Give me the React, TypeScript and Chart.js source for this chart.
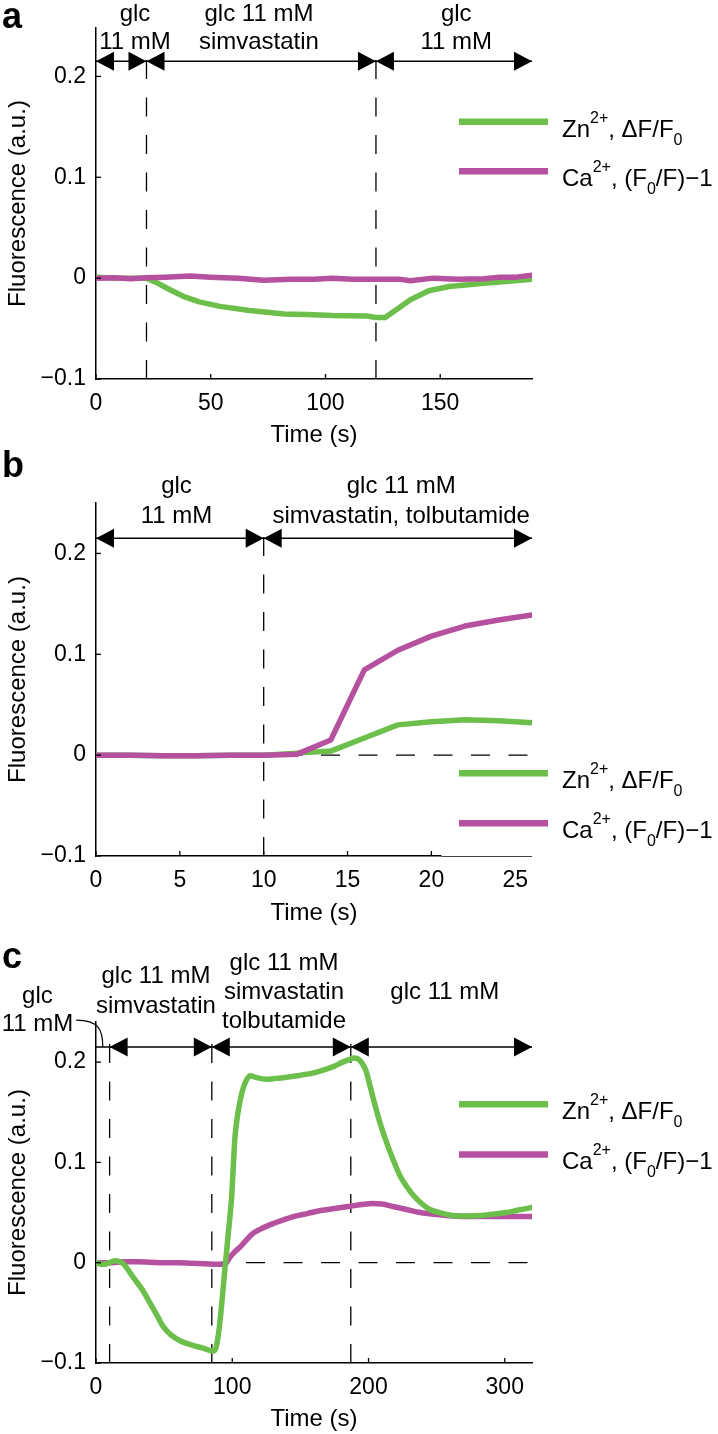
import React, { useEffect, useRef } from 'react';
import { Chart, registerables } from 'chart.js';

Chart.register(...registerables);

const GREEN = '#6cbf4a';
const MAGENTA = '#b6519f';
const FONT = '"Liberation Sans", Arial, Helvetica, sans-serif';

Chart.defaults.font.family = FONT;
Chart.defaults.color = '#000';

// shared axis data
const Y_TICKS = [-0.1, 0, 0.1, 0.2];
const Y_TICK_LABELS = ['\u22120.1', '0', '0.1', '0.2'];
const ARROW_LEVEL = 0.215;
const X_TITLE = 'Time (s)';
const Y_TITLE = 'Fluorescence (a.u.)';
const ZN_LABEL = 'Zn2+, \u0394F/F0';
const CA_LABEL = 'Ca2+, (F0/F)\u22121';
const ZN_LEGEND: [string, string][] = [['Zn', 'n'], ['2+', 'sup'], [', \u0394F/F', 'n'], ['0', 'sub']];
const CA_LEGEND: [string, string][] = [['Ca', 'n'], ['2+', 'sup'], [', (F', 'n'], ['0', 'sub'], ['/F)\u22121', 'n']];

// ---- panel a ----
const aTimeZn = [0, 5, 10, 15, 22, 26, 31, 38, 45, 54, 67, 82, 92, 103, 118, 122, 126, 131, 137, 145, 154, 169, 180, 190];
const aZn = [0.001, 0.0005, 0, 0, 0, -0.004, -0.010, -0.018, -0.0235, -0.028, -0.032, -0.0355, -0.036, -0.037, -0.0375, -0.039, -0.039, -0.031, -0.0215, -0.0125, -0.0083, -0.005, -0.003, -0.001];
const aTimeCa = [0, 8, 15, 22, 30, 41, 50, 62, 73, 85, 95, 103, 112, 122, 132, 137, 147, 158, 169, 176, 183, 190];
const aCa = [0, 0.0005, -0.0005, 0.0005, 0.001, 0.002, 0.001, 0, -0.002, -0.001, -0.001, 0, -0.001, -0.001, -0.001, -0.0025, 0, -0.001, -0.0005, 0.001, 0.001, 0.003];
const aXTicks = [0, 50, 100, 150];
const aSwitch = [22, 122];
const aSegs = [[0, 22], [22, 122], [122, 190]];
const aPhases = [['glc', '11 mM'], ['glc 11 mM', 'simvastatin'], ['glc', '11 mM']];

// ---- panel b ----
const bTime = [0, 2, 4, 6, 8, 10, 12, 14, 16, 18, 20, 22, 24, 26];
const bZn = [0, 0, -0.0005, -0.0005, 0, 0, 0.002, 0.004, 0.017, 0.030, 0.033, 0.035, 0.034, 0.032];
const bCa = [0, 0, -0.0005, -0.0005, 0, 0, 0.001, 0.015, 0.0845, 0.104, 0.118, 0.128, 0.134, 0.139];
const bXTicks = [0, 5, 10, 15, 20, 25];
const bSwitch = [10];
const bSegs = [[0, 10], [10, 26]];
const bPhases = [['glc', '11 mM'], ['glc 11 mM', 'simvastatin, tolbutamide']];

// ---- panel c ----
const cTimeZn = [0, 4, 8, 14, 20, 27, 34, 40, 45, 49, 55, 62, 70, 78, 86, 88, 90, 92, 94.5, 97, 99.5, 102, 104, 106, 108, 110, 113, 118, 125, 132, 140, 148, 155, 162, 169, 175, 181, 186, 189, 192, 195, 198, 201, 205, 209, 213, 218, 223, 228, 233, 239, 245, 252, 262, 272, 282, 292, 301, 310, 320];
const cZn = [0, -0.0015, -0.001, 0.002, -0.001, -0.014, -0.027, -0.041, -0.053, -0.063, -0.072, -0.078, -0.082, -0.085, -0.088, -0.085, -0.070, -0.045, -0.008, 0.028, 0.065, 0.125, 0.148, 0.163, 0.174, 0.181, 0.1865, 0.1845, 0.183, 0.1838, 0.185, 0.1865, 0.188, 0.190, 0.193, 0.196, 0.200, 0.2025, 0.204, 0.2035, 0.1995, 0.192, 0.177, 0.156, 0.137, 0.121, 0.103, 0.087, 0.076, 0.067, 0.059, 0.053, 0.050, 0.047, 0.0465, 0.047, 0.0485, 0.050, 0.0525, 0.055];
const cTimeCa = [0, 10, 20, 30, 40, 50, 60, 70, 80, 90, 95, 98, 102, 106, 110, 115, 120, 128, 136, 145, 155, 165, 175, 185, 195, 203, 210, 218, 228, 238, 250, 262, 275, 290, 305, 320];
const cCa = [0, 0, 0.001, 0.001, 0.0005, 0, 0, -0.0005, -0.001, -0.0015, -0.001, 0.005, 0.011, 0.016, 0.022, 0.029, 0.033, 0.038, 0.042, 0.046, 0.049, 0.052, 0.054, 0.056, 0.058, 0.059, 0.0585, 0.056, 0.053, 0.050, 0.048, 0.0465, 0.046, 0.046, 0.046, 0.046];
const cXTicks = [0, 100, 200, 300];
const cSwitch = [10, 85, 187];
const cSegs = [[10, 85], [85, 187], [187, 320]];
const cPhases = [['glc', '11 mM'], ['glc 11 mM', 'simvastatin'], ['glc 11 mM', 'simvastatin', 'tolbutamide'], ['glc 11 mM']];

const toPts = (xs: number[], ys: number[]) => xs.map((x, i) => ({ x, y: ys[i] }));

const PANELS: any[] = [
  {
    key: 'a', letter: 'a', letterBase: 28, top: 0, height: 450, chartTop: 28, chartBottom: 379,
    xMax: 190, yMax: 0.248, xTicks: aXTicks, titlePad: 0,
    zn: toPts(aTimeZn, aZn), ca: toPts(aTimeCa, aCa), znOnTop: false, smooth: false,
    dashX: aSwitch, zeroDash: false, segs: aSegs,
    phases: [
      { x: 17, lines: aPhases[0], base: 21, step: 28 },
      { x: 71, lines: aPhases[1], base: 21, step: 28 },
      { x: 157, lines: aPhases[2], base: 21, step: 28 },
    ],
    legendY: [0.155, 0.106], legendCover: null, leader: null,
  },
  {
    key: 'b', letter: 'b', letterBase: 27, top: 450, height: 480, chartTop: 53, chartBottom: 406,
    xMax: 26, yMax: 0.25, xTicks: bXTicks, titlePad: 2.6,
    zn: toPts(bTime, bZn), ca: toPts(bTime, bCa), znOnTop: false, smooth: false,
    dashX: bSwitch, zeroDash: true, segs: bSegs,
    phases: [
      { x: 4.8, lines: bPhases[0], base: 43, step: 30 },
      { x: 18.2, lines: bPhases[1], base: 43, step: 30 },
    ],
    legendY: [-0.018, -0.0675], legendCover: 20.6, leader: null,
  },
  {
    key: 'c', letter: 'c', letterBase: 38, top: 930, height: 504, chartTop: 92, chartBottom: 433,
    xMax: 320, yMax: 0.24, xTicks: cXTicks, titlePad: 0,
    zn: toPts(cTimeZn, cZn), ca: toPts(cTimeCa, cCa), znOnTop: true, smooth: true,
    dashX: cSwitch, zeroDash: true, segs: cSegs,
    phases: [
      { x: -43, lines: cPhases[0], base: 73, step: 28 },
      { x: 44, lines: cPhases[1], base: 53, step: 30 },
      { x: 138, lines: cPhases[2], base: 40, step: 29 },
      { x: 256, lines: cPhases[3], base: 69, step: 29 },
    ],
    legendY: [0.158, 0.108], legendCover: null, leader: [-14.5, 5],
  },
];

function drawRich(ctx: CanvasRenderingContext2D, x: number, base: number, parts: [string, string][]) {
  ctx.textAlign = 'left';
  ctx.textBaseline = 'alphabetic';
  for (const [s, k] of parts) {
    ctx.font = k === 'n' ? `24px ${FONT}` : `16px ${FONT}`;
    const yy = k === 'sup' ? base - 14 : k === 'sub' ? base + 8 : base;
    ctx.fillText(s, x, yy);
    x += ctx.measureText(s).width;
  }
}

function decoPlugin(cfg: any) {
  return {
    id: 'deco' + cfg.key,
    beforeDatasetsDraw(chart: any) {
      const { ctx, chartArea: ca, scales } = chart;
      const xs = scales.x, ys = scales.y;
      const ay = ys.getPixelForValue(ARROW_LEVEL);
      ctx.save();
      ctx.strokeStyle = '#000';
      ctx.lineWidth = 1.3;
      ctx.setLineDash([19, 18.5]);
      for (const d of cfg.dashX) {
        const px = xs.getPixelForValue(d);
        ctx.beginPath();
        ctx.moveTo(px, ca.bottom);
        ctx.lineTo(px, ay - 4);
        ctx.stroke();
      }
      if (cfg.zeroDash) {
        const py = ys.getPixelForValue(0);
        ctx.beginPath();
        ctx.moveTo(ca.left, py);
        ctx.lineTo(ca.right, py);
        ctx.stroke();
      }
      ctx.restore();
    },
    afterDraw(chart: any) {
      const { ctx, chartArea: ca, scales } = chart;
      const xs = scales.x, ys = scales.y;
      const ay = ys.getPixelForValue(ARROW_LEVEL);
      ctx.save();
      ctx.setLineDash([]);
      // inward tick marks
      ctx.strokeStyle = '#000';
      ctx.lineWidth = 1.3;
      for (const v of Y_TICKS) {
        const py = ys.getPixelForValue(v);
        ctx.beginPath(); ctx.moveTo(ca.left, py); ctx.lineTo(ca.left + 5, py); ctx.stroke();
      }
      for (const v of cfg.xTicks) {
        const px = xs.getPixelForValue(v);
        ctx.beginPath(); ctx.moveTo(px, ca.bottom); ctx.lineTo(px, ca.bottom - 5); ctx.stroke();
      }
      // legend cover box (panel b)
      if (cfg.legendCover != null) {
        const lx = xs.getPixelForValue(cfg.legendCover);
        const top = ys.getPixelForValue(0) + 2;
        ctx.fillStyle = '#fff';
        ctx.fillRect(lx, top, chart.width - lx, ca.bottom + 2 - top);
        ctx.strokeStyle = '#444';
        ctx.lineWidth = 1;
        ctx.beginPath(); ctx.moveTo(lx, ca.bottom + 0.5); ctx.lineTo(ca.right, ca.bottom + 0.5); ctx.stroke();
      }
      // arrow row
      ctx.strokeStyle = '#000';
      ctx.fillStyle = '#000';
      ctx.lineWidth = 1.5;
      ctx.beginPath();
      ctx.moveTo(xs.getPixelForValue(0), ay);
      ctx.lineTo(xs.getPixelForValue(cfg.xMax), ay);
      ctx.stroke();
      const tri = (px: number, dir: number) => {
        ctx.beginPath();
        ctx.moveTo(px, ay);
        ctx.lineTo(px + dir * 18, ay - 9.5);
        ctx.lineTo(px + dir * 18, ay + 9.5);
        ctx.closePath();
        ctx.fill();
      };
      for (const [s, e] of cfg.segs) {
        tri(xs.getPixelForValue(s), 1);
        tri(xs.getPixelForValue(e), -1);
      }
      // leader curve (panel c)
      if (cfg.leader) {
        const sx = xs.getPixelForValue(cfg.leader[0]);
        const ex = xs.getPixelForValue(cfg.leader[1]);
        const sy = ay - 27;
        ctx.lineWidth = 1.2;
        ctx.beginPath();
        ctx.moveTo(sx, sy);
        ctx.bezierCurveTo(ex - 4, sy, ex, sy + 10, ex, ay);
        ctx.stroke();
      }
      // phase labels
      ctx.font = `24px ${FONT}`;
      ctx.textAlign = 'center';
      ctx.textBaseline = 'alphabetic';
      for (const ph of cfg.phases) {
        const px = xs.getPixelForValue(ph.x);
        ph.lines.forEach((s: string, i: number) => ctx.fillText(s, px, ph.base + i * ph.step));
      }
      // legend
      const items = [[GREEN, ZN_LEGEND], [MAGENTA, CA_LEGEND]];
      items.forEach(([col, parts]: any, i: number) => {
        const py = ys.getPixelForValue(cfg.legendY[i]);
        ctx.strokeStyle = col;
        ctx.lineWidth = 6.5;
        ctx.lineCap = 'butt';
        ctx.beginPath(); ctx.moveTo(459, py); ctx.lineTo(548, py); ctx.stroke();
        ctx.fillStyle = '#000';
        drawRich(ctx, 562, py + 15, parts);
      });
      // panel letter
      ctx.fillStyle = '#000';
      ctx.font = `bold 36px ${FONT}`;
      ctx.textAlign = 'left';
      ctx.fillText(cfg.letter, 2, cfg.letterBase);
      ctx.restore();
    },
  };
}

function Panel({ cfg }: { cfg: any }) {
  const ref = useRef<HTMLCanvasElement>(null);
  useEffect(() => {
    const canvas = ref.current!;
    const tickFont = { size: 23, family: FONT };
    const titleFont = { size: 24, family: FONT };
    const lineOpts = (color: string) => ({
      borderColor: color,
      backgroundColor: color,
      borderWidth: 5.5,
      pointRadius: 0,
      fill: false,
      tension: cfg.smooth ? 0.4 : 0,
      cubicInterpolationMode: cfg.smooth ? 'monotone' : 'default',
      borderJoinStyle: 'round',
      borderCapStyle: 'round',
    });
    const chart = new Chart(canvas, {
      type: 'line',
      data: {
        datasets: [
          { label: ZN_LABEL, data: cfg.zn, order: cfg.znOnTop ? 0 : 1, ...lineOpts(GREEN) } as any,
          { label: CA_LABEL, data: cfg.ca, order: cfg.znOnTop ? 1 : 0, ...lineOpts(MAGENTA) } as any,
        ],
      },
      options: {
        animation: false,
        responsive: false,
        devicePixelRatio: 1,
        events: [],
        layout: { padding: { top: cfg.chartTop, left: 0, right: 718 - 532, bottom: 0 } },
        plugins: { legend: { display: false }, tooltip: { enabled: false } },
        scales: {
          x: {
            type: 'linear',
            min: 0,
            max: cfg.xMax,
            afterBuildTicks: (s: any) => { s.ticks = cfg.xTicks.map((v: number) => ({ value: v })); },
            ticks: { font: tickFont, color: '#000', padding: 11, maxRotation: 0, autoSkip: false, callback: (v: any) => String(v) },
            grid: { display: false, drawTicks: false },
            border: { display: true, color: '#000', width: 1.5 },
            title: { display: true, text: X_TITLE, font: titleFont, color: '#000', padding: { top: 0, bottom: cfg.titlePad } },
            afterFit: (s: any) => { s.height = cfg.height - cfg.chartBottom; },
          },
          y: {
            type: 'linear',
            min: -0.1,
            max: cfg.yMax,
            afterBuildTicks: (s: any) => { s.ticks = Y_TICKS.map((v) => ({ value: v })); },
            ticks: {
              font: tickFont, color: '#000', padding: 10, autoSkip: false,
              callback: (v: any) => {
                const i = Y_TICKS.findIndex((t) => Math.abs(t - v) < 1e-9);
                return i >= 0 ? Y_TICK_LABELS[i] : '';
              },
            },
            grid: { display: false, drawTicks: false },
            border: { display: true, color: '#000', width: 1.5 },
            title: { display: true, text: Y_TITLE, font: titleFont, color: '#000', padding: { top: 4, bottom: 0 } },
            afterFit: (s: any) => { s.width = 96; },
          },
        },
      } as any,
      plugins: [decoPlugin(cfg)],
    });
    return () => chart.destroy();
  }, []);
  return (
    <canvas
      ref={ref}
      width={718}
      height={cfg.height}
      style={{ position: 'absolute', left: 0, top: cfg.top, width: '718px', height: cfg.height + 'px' }}
    />
  );
}

export default function App() {
  return (
    <div style={{ position: 'absolute', left: 0, top: 0, width: 718, height: 1434, background: '#fff' }}>
      {PANELS.map((p) => (
        <Panel key={p.key} cfg={p} />
      ))}
    </div>
  );
}
